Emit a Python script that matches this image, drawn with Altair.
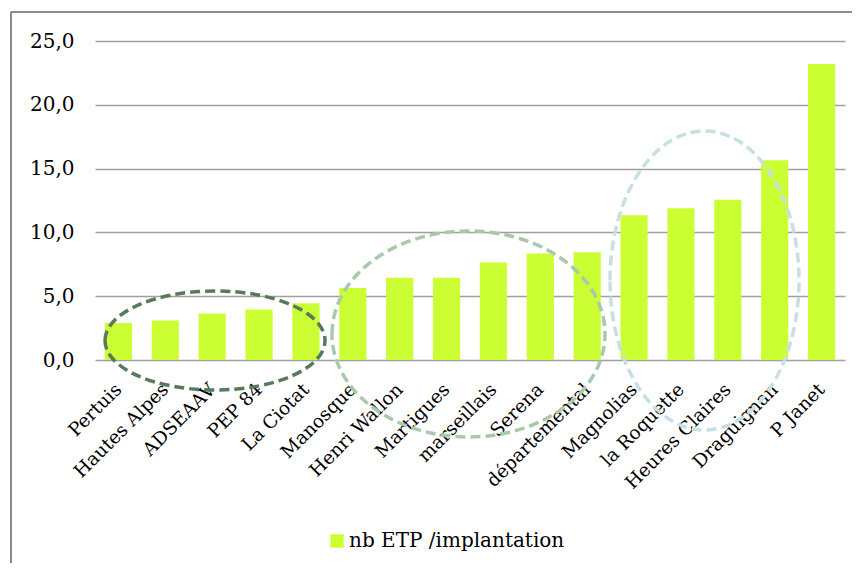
import altair as alt
import pandas as pd

categories = ["Pertuis", "Hautes Alpes", "ADSEAAV", "PEP 84", "La Ciotat", "Manosque",
              "Henri Wallon", "Martigues", "marseillais", "Serena", "départemental",
              "Magnolias", "la Roquette", "Heures Claires", "Draguignan", "P Janet"]
values = [2.9, 3.1, 3.65, 3.95, 4.45, 5.65, 6.45, 6.45, 7.65, 8.35, 8.45,
          11.35, 11.9, 12.55, 15.65, 23.2]
series_name = "nb ETP /implantation"
y_ticks = [0, 5, 10, 15, 20, 25]

df = pd.DataFrame({"cat": categories, "val": values, "serie": [series_name] * len(categories)})

FONT = "DejaVu Serif"
W, H = 750, 319

bars = alt.Chart(df).mark_bar(color="#CCFF33").encode(
    x=alt.X("cat:N", sort=categories, title=None,
            scale=alt.Scale(paddingInner=0.42, paddingOuter=0.21),
            axis=alt.Axis(labelAngle=-45, labelAlign="right", labelBaseline="middle",
                          labelPadding=26, ticks=False, domain=False, grid=False,
                          labelFont=FONT, labelFontSize=18.5, labelColor="#000000",
                          labelLimit=0)),
    y=alt.Y("val:Q", title=None, scale=alt.Scale(domain=[0, 25], nice=False),
            axis=alt.Axis(values=y_ticks, ticks=False, domain=False, grid=True,
                          gridColor="#a0a0a0", gridWidth=1.3,
                          labelExpr="replace(format(datum.value, '.1f'), '.', ',')",
                          labelPadding=21, labelFont=FONT, labelFontSize=20,
                          labelColor="#000000")),
    color=alt.Color("serie:N", scale=alt.Scale(range=["#CCFF33"]),
                    legend=alt.Legend(title=None, orient="none", legendX=232, legendY=490,
                                      symbolType="square", symbolSize=180,
                                      symbolStrokeWidth=0, labelFont=FONT,
                                      labelFontSize=20, labelColor="#000000",
                                      labelOffset=2, labelLimit=0)),
)

one = pd.DataFrame({"a": [0]})

def ellipse(cx, cy, rx, ry, color, width):
    if rx >= ry:
        a, b, s = 1.0, ry / rx, 2 * rx
    else:
        a, b, s = rx / ry, 1.0, 2 * ry
    path = f"M{-a},0A{a},{b},0,1,1,{a},0A{a},{b},0,1,1,{-a},0Z"
    return alt.Chart(one).mark_point(
        shape=path, filled=False, stroke=color, strokeWidth=width,
        strokeDash=[10, 5], opacity=1, size=s * s
    ).encode(x=alt.value(cx), y=alt.value(cy))

e1 = ellipse(120, 299.5, 110, 49.5, "#567a5c", 3.5)
e2 = ellipse(373.5, 293, 136.5, 103, "#a9c9ab", 3.5)
e3 = ellipse(609.5, 239.5, 94.5, 149.5, "#c8dfe5", 3.5)

frame_left = alt.Chart(one).mark_rule(color="#8c8c8c", strokeWidth=2).encode(
    x=alt.value(-84), y=alt.value(-29), y2=alt.value(700))
frame_top = alt.Chart(one).mark_rule(color="#8c8c8c", strokeWidth=2).encode(
    x=alt.value(-84), x2=alt.value(800), y=alt.value(-29))

chart = alt.layer(bars, e1, e2, e3, frame_left, frame_top).properties(
    width=W, height=H,
    autosize=alt.AutoSizeParams(type="none"),
    padding={"left": 87, "top": 33, "right": 7, "bottom": 203},
    background="#ffffff",
).configure_view(stroke=None)

chart.save("out.html", embed_options={"renderer": "svg", "actions": False})
